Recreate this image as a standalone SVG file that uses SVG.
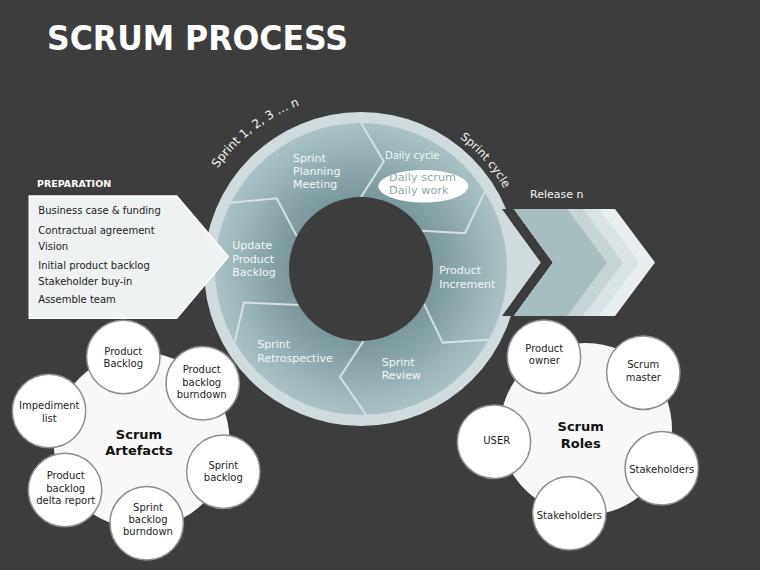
<svg xmlns="http://www.w3.org/2000/svg" width="760" height="570" viewBox="0 0 760 570">
<defs>
<radialGradient id="segGrad" gradientUnits="userSpaceOnUse" cx="361" cy="269" r="146">
<stop offset="0.49" stop-color="#7a979b"/>
<stop offset="1" stop-color="#aac2c5"/>
</radialGradient>
<path id="arcSprintN" d="M 217.6 168.6 A 175 175 0 0 1 361 94"/>
<path id="arcCycle" d="M 459.7 138 A 164 164 0 0 1 522.5 240.5"/>
<style>
text { font-family: "DejaVu Sans", "Liberation Sans", sans-serif; }
.title { font-size: 33px; font-weight: bold; fill: #ffffff; }
.arc-label { font-size: 12px; fill: #f4f4f4; }
.ring-label { font-size: 11px; fill: #f2f6f6; }
.prep-head { font-size: 9.5px; font-weight: bold; fill: #ffffff; }
.prep { font-size: 10px; fill: #222222; }
.sat circle { fill: #ffffff; stroke: #8e8e8e; stroke-width: 1.5; }
.sat text { font-size: 10px; fill: #1e1e1e; text-anchor: middle; }
.hub { fill: #f8f8f8; }
.hub-label { font-size: 13px; font-weight: bold; fill: #111111; text-anchor: middle; }
.sep { fill: none; stroke: #d4e0e1; stroke-width: 2; stroke-linejoin: miter; }
.rim { fill: #cfdbdc; }
</style>
</defs>
<rect width="760" height="570" fill="#3d3d3d"/>

<g id="title">
<text x="47" y="50" class="title" textLength="301" lengthAdjust="spacingAndGlyphs">SCRUM PROCESS</text>
</g>

<g id="sprint-cycle">
<polygon class="rim" points="470,209 502,209 541,262.5 502,316 470,316"/>
<circle class="rim" cx="361" cy="269" r="157"/>
<circle cx="361" cy="269" r="146" fill="url(#segGrad)"/>
<polyline class="sep" points="230.9,202.7 276.7,198.3 296.8,236.3"/>
<polyline class="sep" points="361,123 383.9,161.4 361,197"/>
<polyline class="sep" points="484.8,191.6 465,233.2 422.1,230.8"/>
<polyline class="sep" points="424,303.9 442.7,342.6 488.7,339.8"/>
<polyline class="sep" points="366.1,414.9 340,377 363.5,341"/>
<polyline class="sep" points="234.6,342 244,302.5 298.6,305"/>
<circle cx="361" cy="269" r="72" fill="#3d3d3d"/>
<text class="arc-label"><textPath href="#arcSprintN">Sprint 1, 2, 3 … n</textPath></text>
<text class="arc-label" style="font-size:11.5px"><textPath href="#arcCycle">Sprint cycle</textPath></text>
</g>

<g id="seg-planning">
<text class="ring-label" x="293" y="161.7">Sprint</text>
<text class="ring-label" x="293" y="175">Planning</text>
<text class="ring-label" x="293" y="188">Meeting</text>
</g>
<g id="seg-daily">
<text class="ring-label" x="385" y="159.3" style="font-size:10px">Daily cycle</text>
<ellipse cx="423.3" cy="186.3" rx="45" ry="16.3" fill="#ffffff"/>
<text class="ring-label" x="389" y="180.7" style="fill:#8ea6a9;font-size:11.3px">Daily scrum</text>
<text class="ring-label" x="389" y="194" style="fill:#8ea6a9;font-size:11.3px">Daily work</text>
</g>
<g id="seg-increment">
<text class="ring-label" x="439.3" y="274.3">Product</text>
<text class="ring-label" x="439.3" y="287.5">Increment</text>
</g>
<g id="seg-review">
<text class="ring-label" x="381.7" y="366">Sprint</text>
<text class="ring-label" x="381.7" y="379">Review</text>
</g>
<g id="seg-retro">
<text class="ring-label" x="257.3" y="348.3">Sprint</text>
<text class="ring-label" x="257.3" y="361.7">Retrospective</text>
</g>
<g id="seg-update">
<text class="ring-label" x="232.3" y="249.3">Update</text>
<text class="ring-label" x="232.3" y="262.7">Product</text>
<text class="ring-label" x="232.3" y="276">Backlog</text>
</g>

<g id="preparation">
<text class="prep-head" x="37" y="186.5">PREPARATION</text>
<polygon points="29.3,196 176.7,196 228.3,256.7 176.7,318.3 29.3,318.3" fill="#eef2f3" stroke="#ffffff" stroke-width="1.5"/>
<text class="prep" x="38.3" y="214">Business case &amp; funding</text>
<text class="prep" x="38.3" y="234">Contractual agreement</text>
<text class="prep" x="38.3" y="250">Vision</text>
<text class="prep" x="38.3" y="269.3">Initial product backlog</text>
<text class="prep" x="38.3" y="285.3">Stakeholder buy-in</text>
<text class="prep" x="38.3" y="303.3">Assemble team</text>
</g>

<g id="release">
<polygon points="502,209 514,209 553,262.5 514,316 502,316 541,262.5" fill="#3d3d3d"/>
<polygon points="514,209 615,209 655,262.5 615,316 514,316 553,262.5" fill="#e9eef0"/>
<polygon points="514,209 599,209 639,262.5 599,316 514,316 553,262.5" fill="#d9e2e4"/>
<polygon points="514,209 583,209 623,262.5 583,316 514,316 553,262.5" fill="#c6d4d6"/>
<polygon points="514,209 567,209 607,262.5 567,316 514,316 553,262.5" fill="#a7bec1"/>
<text x="530" y="198" style="font-size:11px;fill:#f4f4f4">Release n</text>
</g>

<g id="connectors"></g>

<g id="scrum-artefacts">
<circle class="hub" cx="141.5" cy="440.5" r="88"/>
<text class="hub-label" x="139" y="439.3">Scrum</text>
<text class="hub-label" x="139" y="455">Artefacts</text>
<g id="art-product-backlog" class="sat">
<circle cx="123.3" cy="357" r="36.7"/>
<text x="123.3" y="355">Product</text>
<text x="123.3" y="367.3">Backlog</text>
</g>
<g id="art-pb-burndown" class="sat">
<circle cx="202.7" cy="383.3" r="36.7"/>
<text x="201.7" y="373.3">Product</text>
<text x="201.7" y="385.7">backlog</text>
<text x="201.7" y="397.7">burndown</text>
</g>
<g id="art-impediment" class="sat">
<circle cx="49" cy="411" r="36.7"/>
<text x="49.3" y="409.3">Impediment</text>
<text x="49.3" y="421.7">list</text>
</g>
<g id="art-sprint-backlog" class="sat">
<circle cx="223.3" cy="471.7" r="36.7"/>
<text x="223.3" y="469">Sprint</text>
<text x="223.3" y="481.3">backlog</text>
</g>
<g id="art-delta" class="sat">
<circle cx="65" cy="490" r="36.7"/>
<text x="65.7" y="479.3">Product</text>
<text x="65.7" y="492">backlog</text>
<text x="65.7" y="504.3">delta report</text>
</g>
<g id="art-sb-burndown" class="sat">
<circle cx="146.7" cy="523.3" r="36.7"/>
<text x="148" y="510.7">Sprint</text>
<text x="148" y="523.3">backlog</text>
<text x="148" y="535.3">burndown</text>
</g>
</g>

<g id="scrum-roles">
<circle class="hub" cx="586" cy="429" r="86"/>
<text class="hub-label" x="580.7" y="430.7">Scrum</text>
<text class="hub-label" x="580.7" y="447.7">Roles</text>
<g id="role-product-owner" class="sat">
<circle cx="544" cy="356.7" r="36.7"/>
<text x="544.3" y="351.7">Product</text>
<text x="544.3" y="364">owner</text>
</g>
<g id="role-scrum-master" class="sat">
<circle cx="643.3" cy="372.7" r="36.7"/>
<text x="643.3" y="368.3">Scrum</text>
<text x="643.3" y="381">master</text>
</g>
<g id="role-user" class="sat">
<circle cx="494" cy="441.7" r="36.7"/>
<text x="496.7" y="444.3">USER</text>
</g>
<g id="role-stakeholders-1" class="sat">
<circle cx="661.7" cy="468.3" r="36.7"/>
<text x="661.7" y="472.7">Stakeholders</text>
</g>
<g id="role-stakeholders-2" class="sat">
<circle cx="569.3" cy="513.3" r="36.7"/>
<text x="569.3" y="519.3">Stakeholders</text>
</g>
</g>
</svg>
